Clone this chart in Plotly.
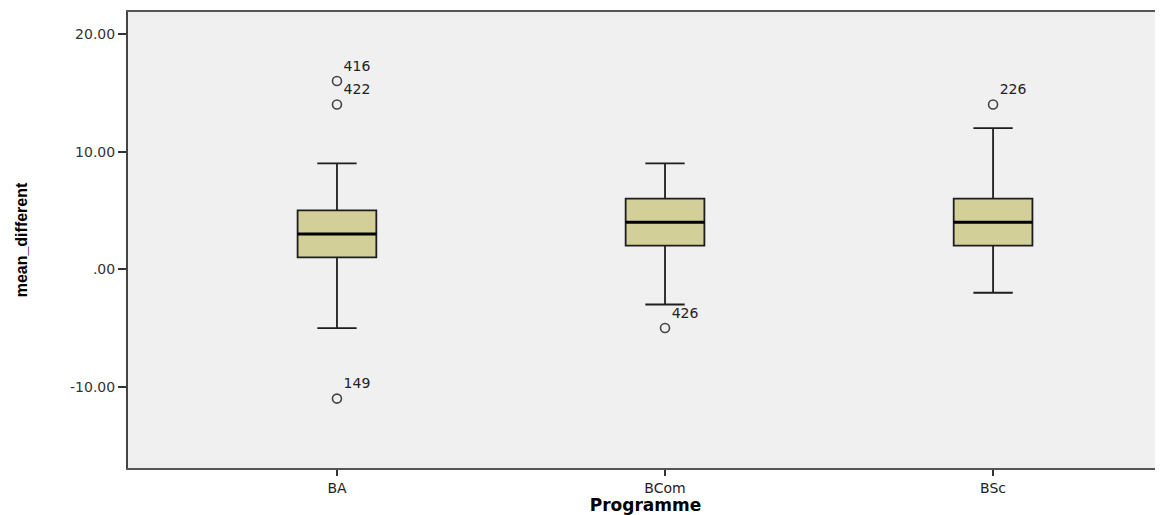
import plotly.graph_objects as go

categories = ["BA", "BCom", "BSc"]
q1 = [1, 2, 2]
median = [3, 4, 4]
q3 = [5, 6, 6]
lower_whisker = [-5, -3, -2]
upper_whisker = [9, 9, 12]

outlier_cat = ["BA", "BA", "BA", "BCom", "BSc"]
outlier_val = [16, 14, -11, -5, 14]
outlier_id = ["416", "422", "149", "426", "226"]

y_ticks = [20, 10, 0, -10]
y_tick_labels = ["20.00", "10.00", ".00", "-10.00"]

fig = go.Figure()

fig.add_trace(go.Box(
    x=categories, q1=q1, median=median, q3=q3,
    lowerfence=lower_whisker, upperfence=upper_whisker,
    fillcolor="#d3cf98", line=dict(color="#1e1e1e", width=1.8),
    width=0.24, whiskerwidth=0.5, boxpoints=False, showlegend=False,
    hoverinfo="skip",
))
# median emphasis
fig.add_trace(go.Box(
    x=categories, q1=median, median=median, q3=median,
    lowerfence=median, upperfence=median,
    fillcolor="rgba(0,0,0,0)", line=dict(color="#000000", width=3),
    width=0.24, whiskerwidth=0, boxpoints=False, showlegend=False,
    hoverinfo="skip",
))
fig.add_trace(go.Scatter(
    x=outlier_cat, y=outlier_val, mode="markers+text",
    text=outlier_id, textposition="top right",
    textfont=dict(family="DejaVu Sans", size=14, color="#222"),
    marker=dict(symbol="circle-open", size=9, color="#444",
                line=dict(width=1.6, color="#444")),
    showlegend=False,
))

fig.update_layout(
    width=1155, height=507,
    margin=dict(l=120, r=0, t=4, b=47),
    paper_bgcolor="white", plot_bgcolor="#f0f0f0",
    font=dict(family="DejaVu Sans", size=14, color="#222"),
)
fig.update_xaxes(
    type="category", range=[-0.637, 2.518],
    showgrid=False, zeroline=False,
    showline=True, linecolor="#555", linewidth=2, mirror=True,
    ticks="outside", ticklen=6, tickcolor="#333", tickwidth=1.5,
    tickfont=dict(family="DejaVu Sans", size=14, color="#222"),
    title=dict(text="<b>Programme</b>", standoff=5,
               font=dict(family="DejaVu Sans", size=17, color="#000")),
)
fig.update_yaxes(
    range=[-16.9, 21.87],
    tickvals=y_ticks, ticktext=y_tick_labels,
    showgrid=False, zeroline=False,
    showline=True, linecolor="#444", linewidth=2,
    ticks="outside", ticklen=8, tickcolor="#333", tickwidth=1.5,
    tickfont=dict(family="DejaVu Sans", size=14, color="#333"),
    title=dict(text="<b>mean_different</b>", standoff=38,
               font=dict(family="Liberation Sans", size=16, color="#000")),
)

fig.write_html("out.html")
